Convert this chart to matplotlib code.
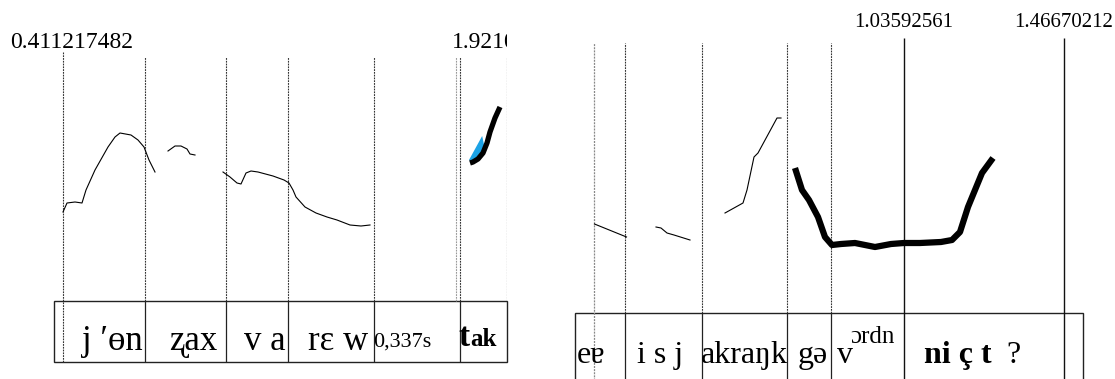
import matplotlib
matplotlib.use("Agg")
import matplotlib.pyplot as plt
from matplotlib.patches import Rectangle

SERIF = ["Liberation Serif", "DejaVu Serif"]

# ---- left panel (time in s, pitch in Hz) ----
left_bounds = [0.4112, 0.7228, 1.0306, 1.2662, 1.593, 1.9198, 2.0984]
left_ghost = 1.9046
left_top_labels = ["0.411217482", "1.92104"]
left_top_pos = [0.2098, 1.8894]

left_seg1_t = [0.4112, 0.4264, 0.4568, 0.4834, 0.4986, 0.5328, 0.5822, 0.6088,
               0.6278, 0.6696, 0.6962, 0.719, 0.738, 0.7608]
left_seg1_f = [167, 176, 177, 176, 189, 209, 232, 242, 246, 244, 239, 232, 219, 207]
left_seg2_t = [0.8102, 0.8368, 0.8596, 0.8824, 0.8938, 0.9128]
left_seg2_f = [228, 233, 233, 230, 225, 224]
left_seg3_t = [1.0192, 1.0458, 1.0724, 1.0876, 1.1066, 1.1256, 1.1522, 1.2092, 1.251,
               1.27, 1.2852, 1.2966, 1.3308, 1.3726, 1.4144, 1.4524, 1.5018, 1.5436, 1.5778]
left_seg3_f = [207, 202, 196, 195, 206, 208, 207, 203, 199, 196, 189, 182, 172, 166,
               162, 159, 154, 153, 154]
left_bold_t = [1.9578, 1.9692, 1.9882, 2.0072, 2.0224, 2.0338, 2.0528, 2.0718]
left_bold_f = [216, 217, 220, 226, 236, 247, 261, 272]
left_blue_t = [1.954, 2.004, 2.013, 1.972]
left_blue_f = [219, 243, 232, 215]

left_labels = ["j \u2032\u0275n", "\u0290ax", "v a", "r\u025b w"]
left_label_t = [0.5974, 0.9052, 1.1788, 1.4562]
pause_label, pause_t = "0,337s", 1.7013
tak_head, tak_tail = "t", "ak"
tak_head_t, tak_tail_t = 1.9122, 1.9578

# ---- right panel ----
right_bounds = [0.2002, 0.2826, 0.4905, 0.72, 0.8388]
right_marks = [1.0359, 1.4667]
right_mark_labels = ["1.03592561", "1.46670212"]

right_seg1_t = [0.2002, 0.2867]
right_seg1_f = [155, 142]
right_seg2_t = [0.3663, 0.3798, 0.396, 0.4149, 0.4581]
right_seg2_f = [152, 151, 146, 144, 139]
right_seg3_t = [0.5526, 0.5769, 0.6012, 0.612, 0.6309, 0.6417, 0.693, 0.7038]
right_seg3_f = [166, 171, 176, 189, 222, 226, 261, 261]
right_bold_t = [0.7416, 0.7605, 0.7794, 0.8037, 0.8226, 0.8415, 0.8658, 0.9036, 0.9576,
                1.0008, 1.0359, 1.0791, 1.1358, 1.1655, 1.1871, 1.2087, 1.2276, 1.2465, 1.2762]
right_bold_f = [211, 189, 179, 162, 142, 134, 135, 136, 132, 135, 136, 136, 137, 139,
                147, 172, 189, 206, 221]

right_labels = ["e\u0250", "i s j", "akra\u014bk", "g\u0259", "?"]
right_label_t = [0.1908, 0.3771, 0.6039, 0.7902, 1.3329]
bold_label = "ni \u00e7 t"
bold_label_t = 1.1817
sup_base, sup_text = "v", "\u0254rdn"
sup_base_t, sup_text_t = 0.855, 0.8901

fig = plt.figure(figsize=(11.15, 3.79), dpi=100)
fig.patch.set_facecolor("white")

axL = fig.add_axes([0, 0, 507 / 1115, 1])
axR = fig.add_axes([560 / 1115, 0, 555 / 1115, 1])
axL.set_xlim(0.1718, 2.0984)
axR.set_xlim(0.1071, 1.6056)
for ax in (axL, axR):
    ax.set_ylim(0, 379)
    ax.axis("off")

dash = (0, (1.6, 0.9))

# left panel
axL.vlines(left_bounds[0], 78, 327, colors="#333333", linestyles=dash, lw=0.8)
axL.vlines(left_bounds[1:], 78, 322, colors="#333333", linestyles=dash, lw=0.8)
axL.vlines(left_ghost, 78, 322, colors="#999999", linestyles=dash, lw=0.8)
axL.vlines(left_bounds[0], 17, 78, colors="#333333", linestyles=dash, lw=0.8)
axL.vlines(left_bounds[1:-1], 17, 78, colors="#222222", lw=0.9)
axL.add_patch(Rectangle((0.377, 17), 2.0984 - 0.377, 61, fill=False,
                        ec="#222222", lw=1.0, clip_on=False))

axL.plot(left_seg1_t, left_seg1_f, color="black", lw=0.8)
axL.plot(left_seg2_t, left_seg2_f, color="black", lw=0.8)
axL.plot(left_seg3_t, left_seg3_f, color="black", lw=0.8)
axL.fill(left_blue_t, left_blue_f, color="#1ca3e6", lw=0)
axL.plot(left_bold_t, left_bold_f, color="black", lw=3.8, solid_capstyle="butt")

axL.text(left_top_pos[0], 331, left_top_labels[0], fontsize=17, family=SERIF,
         ha="left", va="baseline")
axL.text(left_top_pos[1], 331, left_top_labels[1], fontsize=17, family=SERIF,
         ha="left", va="baseline", clip_on=True)

for lab, t in zip(left_labels, left_label_t):
    axL.text(t, 29, lab, fontsize=25, family=SERIF, ha="center", va="baseline")
axL.text(pause_t, 32, pause_label, fontsize=16, family=SERIF, ha="center", va="baseline")
axL.text(tak_head_t, 33, tak_head, fontsize=24, family=SERIF, weight="bold",
         ha="left", va="baseline")
axL.text(tak_tail_t, 33, tak_tail, fontsize=18, family=SERIF, weight="bold",
         ha="left", va="baseline")

# right panel
axR.vlines(right_bounds[0], -10, 336, colors="#888888", linestyles=dash, lw=0.9)
axR.vlines(right_bounds[1:], 66, 336, colors="#333333", linestyles=dash, lw=0.8)
axR.vlines(right_bounds[1:], -10, 66, colors="#222222", lw=0.9)
axR.vlines(right_marks, -10, 341, colors="#111111", lw=1.0)
axR.add_patch(Rectangle((0.1476, -10), 1.5192 - 0.1476, 76, fill=False,
                        ec="#222222", lw=1.0))

axR.plot(right_seg1_t, right_seg1_f, color="black", lw=0.8)
axR.plot(right_seg2_t, right_seg2_f, color="black", lw=0.8)
axR.plot(right_seg3_t, right_seg3_f, color="black", lw=0.8)
axR.plot(right_bold_t, right_bold_f, color="black", lw=4.5,
         solid_joinstyle="round", solid_capstyle="butt")

for lab, t in zip(right_mark_labels, right_marks):
    axR.text(t, 352, lab, fontsize=15, family=SERIF, ha="center", va="baseline")

for lab, t in zip(right_labels, right_label_t):
    axR.text(t, 16, lab, fontsize=23, family=SERIF, ha="center", va="baseline")
axR.text(bold_label_t, 16, bold_label, fontsize=23, family=SERIF, weight="bold",
         ha="center", va="baseline")
axR.text(sup_base_t, 16, sup_base, fontsize=23, family=SERIF, ha="left", va="baseline")
axR.text(sup_text_t, 36, sup_text, fontsize=18, family=SERIF, ha="left", va="baseline")

fig.savefig("out.png", dpi=100, facecolor="white")
